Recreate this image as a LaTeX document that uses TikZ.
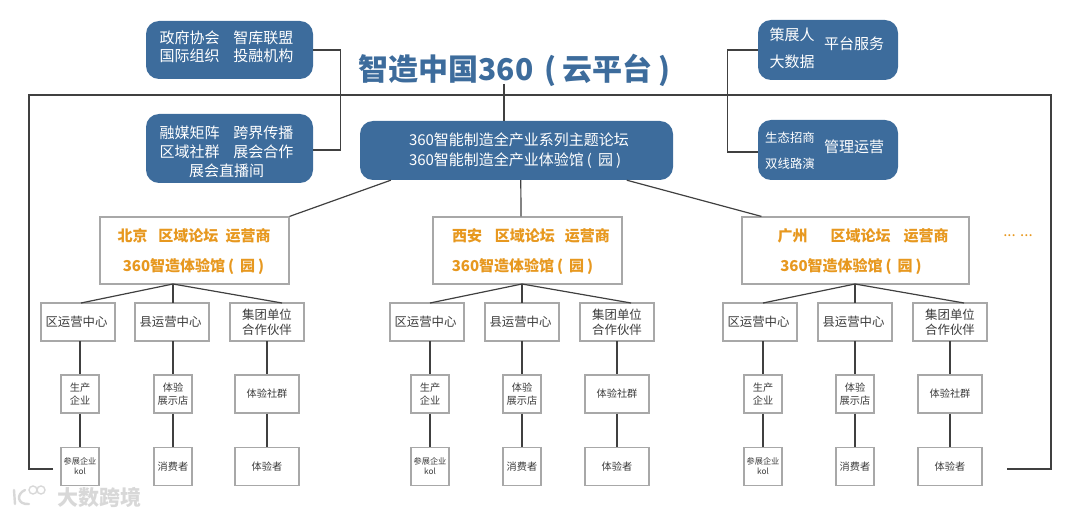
\documentclass[tikz,border=0pt]{standalone}
\usepackage{fontspec}
\setmainfont{Noto Sans CJK SC}
\definecolor{platblue}{HTML}{3D6C9C}
\definecolor{opcolor}{HTML}{E7981F}
\definecolor{linecolor}{HTML}{404040}
\definecolor{boxline}{HTML}{A8A8A8}
\definecolor{txtcolor}{HTML}{3C3C3C}
\definecolor{markcolor}{HTML}{D8D8D8}
\tikzset{
  blue box/.style={rounded corners=13pt, fill=platblue, inner sep=0pt},
  blue txt/.style={text=white, inner sep=0pt, align=center, font=\fontsize{15}{18}\selectfont},
  region box/.style={draw=boxline, line width=1.2pt, fill=white, inner sep=0pt, minimum width=#1, minimum height=67pt},
  op txt/.style={text=opcolor, inner sep=0pt, font=\fontsize{15}{16}\selectfont\bfseries},
  center box/.style={draw=boxline, line width=1.2pt, fill=white, inner sep=0pt, align=center, text=txtcolor, minimum width=74pt, minimum height=38pt, font=\fontsize{12.4}{15}\selectfont},
  small box/.style={draw=boxline, line width=1.2pt, fill=white, inner sep=0pt, align=center, text=txtcolor, minimum width=#1, minimum height=38pt, font=\fontsize{10.2}{13}\selectfont},
  conn/.style={draw=linecolor, line width=1.2pt},
}
\begin{document}
\begin{tikzpicture}[x=1pt, y=-1pt]
  \useasboundingbox (0,0) rectangle (1080,516);

  % platform boxes
  \node[blue box, minimum width=167pt, minimum height=58pt] (nGov) at (229.5,50) {};
  \node[blue txt] (tGov) at (226.5,47) {政府协会\hspace{14pt}智库联盟\\国际组织\hspace{14pt}投融机构};
  \node[blue box, minimum width=167pt, minimum height=69pt] (nMedia) at (229.5,148.5) {};
  \node[blue txt, font=\fontsize{15}{19}\selectfont] (tMedia) at (226.5,152) {融媒矩阵\hspace{14pt}跨界传播\\区域社群\hspace{14pt}展会合作\\展会直播间};
  \node[blue box, minimum width=313pt, minimum height=59pt] (nMain) at (516.5,150.5) {};
  \node[blue txt, align=left, font=\fontsize{15}{20}\selectfont] (tMain) at (519,151) {360智能制造全产业系列主题论坛\\360智能制造全产业体验馆\hspace{3pt}(\hspace{6pt}园\hspace{3pt})};
  \node[blue box, minimum width=140pt, minimum height=60pt] (nServe) at (828,50) {};
  \node[blue txt] (tCur) at (792,35) {策展人};
  \node[blue txt] (tData) at (792,62) {大数据};
  \node[blue txt] (tServe) at (854,44) {平台服务};
  \node[blue box, minimum width=140pt, minimum height=60pt] (nRun) at (828,150) {};
  \node[blue txt, font=\fontsize{12.4}{15}\selectfont] (tBiz) at (790,138) {生态招商};
  \node[blue txt, font=\fontsize{12.4}{15}\selectfont] (tRoad) at (790,164) {双线路演};
  \node[blue txt] (tRun) at (854,147) {管理运营};

  \node[inner sep=0pt, text=platblue, font=\fontsize{30}{32}\selectfont\bfseries] (nTitle) at (514.5,70.5) {智造中国360\hspace{11pt}(\hspace{6pt}云平台\hspace{6pt})};

  % frame round the regions
  \coordinate (fL) at (53,469);
  \coordinate (fR) at (1007,469);
  \coordinate (fTL) at (29,95);
  \coordinate (fTR) at (1051,95);
  \draw[conn] (fL) -| (fTL) -- (fTR) |- (fR);

  \draw[conn] (nGov.east) -- ++(27,0) |- ([yshift=-1.5pt]nMedia.east);
  \draw[conn] (nServe.west) -- ++(-30,0) |- ([yshift=-2pt]nRun.west);
  \coordinate (cTitle) at (504,84);
  \draw[conn] (cTitle) -- (cTitle |- nMain.north);

  % regions
  \node[region box=189pt] (nBJ) at (194.5,250.5) {};
  \node[op txt] (tBJa) at (194,236) {北京\hspace{11pt}区域论坛\hspace{7pt}运营商};
  \node[op txt] (tBJb) at (193.5,266.5) {360智造体验馆\hspace{3pt}(\hspace{6pt}园\hspace{3pt})};
  \node[region box=189pt] (nXA) at (527.5,250.5) {};
  \node[op txt] (tXAa) at (531,236) {西安\hspace{13pt}区域论坛\hspace{10pt}运营商};
  \node[op txt] (tXAb) at (522.5,266.5) {360智造体验馆\hspace{3pt}(\hspace{6pt}园\hspace{3pt})};
  \node[region box=227pt] (nGZ) at (855.5,250.5) {};
  \node[op txt] (tGZa) at (863,236) {广州\hspace{23pt}区域论坛\hspace{13pt}运营商};
  \node[op txt] (tGZb) at (851,266.5) {360智造体验馆\hspace{3pt}(\hspace{6pt}园\hspace{3pt})};
  \node[inner sep=0pt, text=opcolor, font=\fontsize{15}{16}\selectfont] (tMore) at (1018,236) {... ...};

  \draw[conn] ([xshift=31pt]nMain.south west) -- (nBJ.north east);
  \draw[conn] ([xshift=161pt]nMain.south west) -- ([xshift=-6.5pt]nXA.north);
  \draw[conn] ([xshift=267pt]nMain.south west) -- ([xshift=20pt]nGZ.north west);

  % Beijing
  \node[center box] (nBJd) at (78,322) {区运营中心\hspace{3pt}};
  \node[center box] (nBJc) at (172,322) {县运营中心\hspace{3pt}};
  \node[center box] (nBJg) at (267,322) {集团单位\\合作伙伴};
  \node[small box=38pt] (nBJp) at (80,394) {生产\\企业};
  \node[small box=38pt] (nBJs) at (173,394) {体验\\展示店};
  \node[small box=64pt] (nBJq) at (267,394) {体验社群};
  \node[small box=38pt, font=\fontsize{8.2}{10}\selectfont] (nBJk) at (80,466.5) {参展企业\\kol};
  \node[small box=38pt] (nBJu) at (173,466.5) {消费者};
  \node[small box=64pt] (nBJe) at (267,466.5) {体验者};
  \coordinate (jBJ) at (173,284);
  \draw[conn] (jBJ) -- (81,303);
  \draw[conn] (jBJ) -- (173,303);
  \draw[conn] (jBJ) -- (282,303);
  \draw[conn] (80,341) -- (nBJp);
  \draw[conn] (173,341) -- (nBJs);
  \draw[conn] (267,341) -- (nBJq);
  \draw[conn] (nBJp) -- (nBJk);
  \draw[conn] (nBJs) -- (nBJu);
  \draw[conn] (nBJq) -- (nBJe);

  % Xi'an
  \node[center box] (nXAd) at (427,322) {区运营中心\hspace{3pt}};
  \node[center box] (nXAc) at (522,322) {县运营中心\hspace{3pt}};
  \node[center box] (nXAg) at (617,322) {集团单位\\合作伙伴};
  \node[small box=38pt] (nXAp) at (430,394) {生产\\企业};
  \node[small box=38pt] (nXAs) at (522,394) {体验\\展示店};
  \node[small box=64pt] (nXAq) at (617,394) {体验社群};
  \node[small box=38pt, font=\fontsize{8.2}{10}\selectfont] (nXAk) at (430,466.5) {参展企业\\kol};
  \node[small box=38pt] (nXAu) at (522,466.5) {消费者};
  \node[small box=64pt] (nXAe) at (617,466.5) {体验者};
  \coordinate (jXA) at (522,284);
  \draw[conn] (jXA) -- (430,303);
  \draw[conn] (jXA) -- (522,303);
  \draw[conn] (jXA) -- (631,303);
  \draw[conn] (430,341) -- (nXAp);
  \draw[conn] (522,341) -- (nXAs);
  \draw[conn] (617,341) -- (nXAq);
  \draw[conn] (nXAp) -- (nXAk);
  \draw[conn] (nXAs) -- (nXAu);
  \draw[conn] (nXAq) -- (nXAe);

  % Guangzhou
  \node[center box] (nGZd) at (760,322) {区运营中心\hspace{3pt}};
  \node[center box] (nGZc) at (855,322) {县运营中心\hspace{3pt}};
  \node[center box] (nGZg) at (950,322) {集团单位\\合作伙伴};
  \node[small box=38pt] (nGZp) at (763,394) {生产\\企业};
  \node[small box=38pt] (nGZs) at (855,394) {体验\\展示店};
  \node[small box=64pt] (nGZq) at (950,394) {体验社群};
  \node[small box=38pt, font=\fontsize{8.2}{10}\selectfont] (nGZk) at (763,466.5) {参展企业\\kol};
  \node[small box=38pt] (nGZu) at (855,466.5) {消费者};
  \node[small box=64pt] (nGZe) at (950,466.5) {体验者};
  \coordinate (jGZ) at (855,284);
  \draw[conn] (jGZ) -- (763,303);
  \draw[conn] (jGZ) -- (855,303);
  \draw[conn] (jGZ) -- (964,303);
  \draw[conn] (763,341) -- (nGZp);
  \draw[conn] (855,341) -- (nGZs);
  \draw[conn] (950,341) -- (nGZq);
  \draw[conn] (nGZp) -- (nGZk);
  \draw[conn] (nGZs) -- (nGZu);
  \draw[conn] (nGZq) -- (nGZe);

  % watermark
  \draw[markcolor, line width=2.4pt, line cap=round] (14,490) -- (15,504) (25,490) .. controls (16,494) and (17,505) .. (29,504);
  \draw[markcolor, line width=1.4pt] (33,490) circle (4pt) (41,490) circle (4pt);
  \node[inner sep=0pt, text=markcolor, font=\fontsize{21}{24}\selectfont\bfseries] (tMark) at (99,497) {大数跨境};
\end{tikzpicture}
\end{document}
